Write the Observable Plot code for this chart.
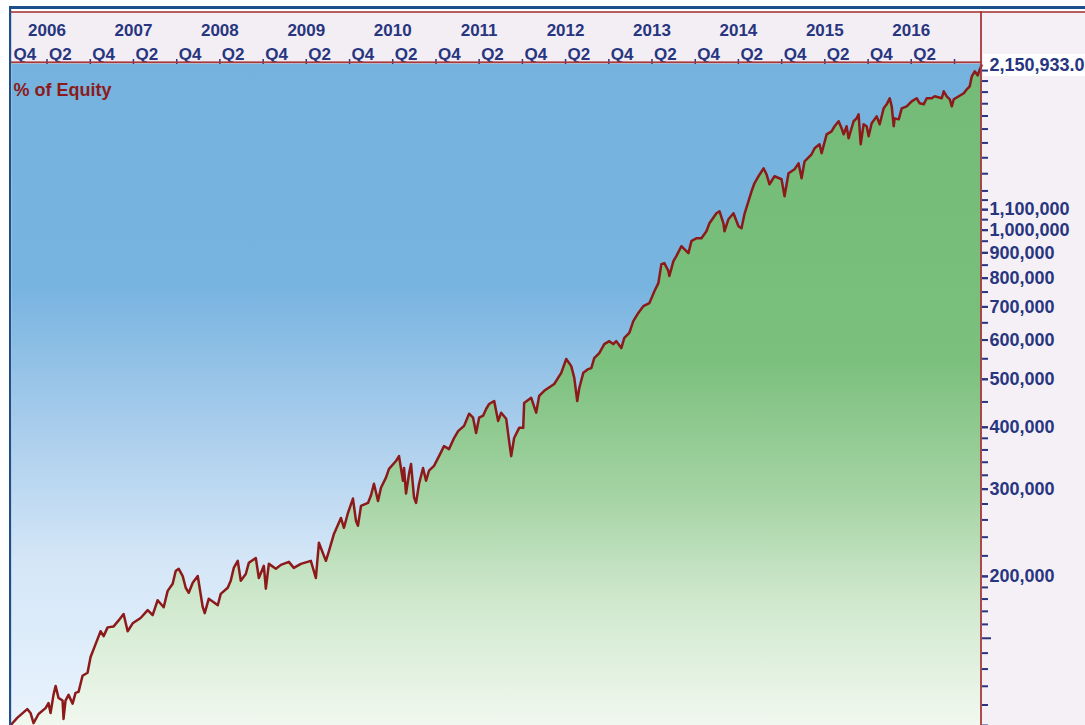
<!DOCTYPE html>
<html>
<head>
<meta charset="utf-8">
<script src="https://cdn.jsdelivr.net/npm/d3@7"></script>
<script src="https://cdn.jsdelivr.net/npm/@observablehq/plot@0.6"></script>
<style>
  html, body { margin: 0; padding: 0; background: #ffffff; }
  #chart { width: 1085px; height: 725px; overflow: hidden; }
</style>
</head>
<body>
<div id="chart"></div>
<script>
// ---- data (decimal year, equity $) ----
const years = [2005.836,2005.902,2006.018,2006.056,2006.091,2006.149,2006.230,2006.264,2006.288,2006.322,2006.346,2006.380,2006.427,2006.438,2006.461,2006.496,2006.543,2006.577,2006.612,2006.658,2006.716,2006.751,2006.809,2006.867,2006.902,2006.948,2007.018,2007.076,2007.133,2007.180,2007.238,2007.330,2007.412,2007.469,2007.527,2007.597,2007.643,2007.701,2007.736,2007.771,2007.817,2007.852,2007.887,2007.933,2007.991,2008.049,2008.072,2008.118,2008.176,2008.223,2008.257,2008.338,2008.373,2008.408,2008.454,2008.489,2008.547,2008.582,2008.663,2008.698,2008.756,2008.779,2008.814,2008.895,2008.953,2009.045,2009.103,2009.184,2009.300,2009.358,2009.393,2009.474,2009.509,2009.567,2009.648,2009.683,2009.729,2009.787,2009.822,2009.845,2009.880,2009.961,2009.995,2010.030,2010.077,2010.111,2010.169,2010.204,2010.285,2010.320,2010.366,2010.378,2010.401,2010.436,2010.459,2010.494,2010.517,2010.552,2010.598,2010.633,2010.667,2010.725,2010.783,2010.841,2010.899,2010.957,2011.004,2011.073,2011.131,2011.177,2011.212,2011.247,2011.293,2011.328,2011.363,2011.421,2011.467,2011.502,2011.560,2011.594,2011.618,2011.652,2011.710,2011.757,2011.768,2011.849,2011.907,2011.942,2012.000,2012.116,2012.197,2012.255,2012.313,2012.348,2012.382,2012.406,2012.452,2012.510,2012.545,2012.579,2012.637,2012.695,2012.753,2012.799,2012.834,2012.892,2012.927,2012.985,2013.031,2013.089,2013.147,2013.217,2013.275,2013.321,2013.356,2013.390,2013.437,2013.448,2013.495,2013.529,2013.587,2013.622,2013.669,2013.703,2013.761,2013.819,2013.877,2013.912,2013.993,2014.028,2014.074,2014.086,2014.132,2014.190,2014.248,2014.283,2014.317,2014.364,2014.399,2014.433,2014.480,2014.538,2014.572,2014.607,2014.665,2014.746,2014.781,2014.827,2014.897,2014.943,2014.978,2015.013,2015.094,2015.129,2015.186,2015.210,2015.268,2015.325,2015.360,2015.407,2015.441,2015.465,2015.499,2015.522,2015.580,2015.615,2015.638,2015.662,2015.696,2015.731,2015.754,2015.789,2015.847,2015.882,2015.928,2015.963,2015.998,2016.021,2016.044,2016.055,2016.102,2016.137,2016.194,2016.252,2016.310,2016.345,2016.391,2016.426,2016.484,2016.519,2016.600,2016.623,2016.658,2016.693,2016.716,2016.739,2016.797,2016.855,2016.890,2016.924,2016.948,2016.982,2017.017,2017.040,2017.060];
const equity = [100600,103600,107900,106000,101100,105500,108400,111000,106000,115300,120200,113700,112300,103100,112300,115300,110700,116400,116900,126000,127800,137500,146000,155000,151500,157800,158500,163000,167900,155000,160800,164800,171000,167100,179000,173300,187000,193300,205000,207200,200300,189700,185300,194200,200300,173300,168600,180200,177400,174900,184400,189700,196000,208100,215000,196000,202200,213000,217800,198500,210100,188900,212000,207200,211000,214000,208100,212000,215000,198500,233800,215000,225000,243600,262400,250700,268500,287200,259000,253100,277500,281400,291200,307700,284000,302000,316600,329600,342000,349800,312000,331100,293900,322500,337300,288500,281400,307700,331100,312000,327000,334200,349800,366400,361400,380500,393000,402600,426000,418200,389400,418200,422100,435500,445800,452000,412000,428000,416300,375000,349800,380500,398900,398900,447800,458900,428000,463100,474000,489200,515200,549300,531500,503400,452000,480200,515200,524200,526600,551800,564800,588800,597000,588800,597000,578000,606000,620200,655000,680700,702500,712400,753000,781700,854000,858000,827000,808100,866000,886200,928200,915400,898700,950000,963200,963200,995000,1032400,1081900,1092000,1032400,995000,1052200,1081900,1018100,1008800,1076900,1144000,1198000,1243500,1284900,1333100,1296900,1237700,1284900,1267100,1170600,1302900,1326900,1364300,1273000,1377000,1423100,1463800,1491100,1429700,1561200,1583000,1621000,1659000,1606100,1561200,1621000,1532500,1659000,1681600,1713000,1491100,1636100,1621000,1546800,1643700,1697200,1636100,1761900,1794900,1846200,1778300,1621000,1681600,1673800,1761900,1778300,1820000,1846200,1803300,1794900,1846200,1846200,1863300,1846200,1907000,1863300,1837600,1778300,1837600,1863300,1889500,1924300,1951300,2044100,2092000,2053500,2111400,2150933];
const finalValue = 2150933;

// top time axis (Q2 = Apr 1, Q4 = Oct 1)
const quarterTicks = [2005.748,2006.247,2006.748,2007.247,2007.748,2008.247,2008.748,2009.247,2009.748,2010.247,2010.748,2011.247,2011.748,2012.247,2012.748,2013.247,2013.748,2014.247,2014.748,2015.247,2015.748,2016.247,2016.748];
const quarterLabels = ["Q4","Q2","Q4","Q2","Q4","Q2","Q4","Q2","Q4","Q2","Q4","Q2","Q4","Q2","Q4","Q2","Q4","Q2","Q4","Q2","Q4","Q2",""];
const yearTicks = [2006.247,2007.247,2008.247,2009.247,2010.247,2011.247,2012.247,2013.247,2014.247,2015.247,2016.247];
const yearLabels = ["2006","2007","2008","2009","2010","2011","2012","2013","2014","2015","2016"];

// right value axis
const labeledTicks = [200000,300000,400000,500000,600000,700000,800000,900000,1000000,1100000];
const minorTicks = [100000,110000,120000,130000,140000,160000,170000,180000,190000,200000,220000,240000,260000,280000,300000,320000,340000,360000,380000,400000,450000,500000,550000,600000,650000,700000,750000,800000,850000,900000,950000,1000000,1050000,1100000,1150000,1200000,1300000,1400000,1500000,1600000,1700000,1800000,1900000,2000000,2100000];
const majorTicks = [150000];

const xDomain = [2005.836, 2017.06];
const yDomain = [100000, 2170000];

const navy = "#28357f";
const darkRed = "#8c1a1a";

const data = years.map((t, i) => ({t, v: equity[i]}));
const inDomain = quarterTicks.filter(d => d >= xDomain[0] && d <= xDomain[1]);

const svg = Plot.plot({
  width: 1085,
  height: 725,
  marginLeft: 11,
  marginRight: 104,
  marginTop: 63,
  marginBottom: 0,
  style: {background: "transparent", fontFamily: "'Liberation Sans', Arial, sans-serif", fontWeight: "bold", overflow: "visible"},
  x: {domain: xDomain, label: null},
  y: {type: "log", domain: yDomain, label: null},
  marks: [
    Plot.frame({fill: "url(#gBlue)", stroke: "none"}),
    Plot.areaY(data, {x: "t", y1: yDomain[0], y2: "v", fill: "url(#gGreen)"}),
    Plot.line(data, {x: "t", y: "v", stroke: darkRed, strokeWidth: 2.5}),
    Plot.axisY(minorTicks, {anchor: "right", tickSize: 6, tickFormat: () => "", stroke: navy, color: navy, label: null, strokeWidth: 2}),
    Plot.axisY(majorTicks, {anchor: "right", tickSize: 9, tickFormat: () => "", stroke: navy, color: navy, label: null, strokeWidth: 2}),
    Plot.axisY(labeledTicks, {anchor: "right", tickSize: 6, tickPadding: 2, tickFormat: d3.format(","), stroke: navy, color: navy, fill: navy, fontSize: 18, fontWeight: "bold", label: null, strokeWidth: 2}),
    Plot.axisX(inDomain, {anchor: "top", tickSize: 5, tickFormat: () => "", stroke: navy, color: navy, label: null, strokeWidth: 1.5}),
    Plot.text(quarterTicks, {x: d => Math.max(d, xDomain[0]), text: (d, i) => quarterLabels[i], frameAnchor: "top", dy: -16, dx: 2, textAnchor: "start", fill: navy, fontSize: 17, fontWeight: "bold"}),
    Plot.text(yearTicks, {x: d => d, text: (d, i) => yearLabels[i], frameAnchor: "top", dy: -40, textAnchor: "middle", fill: navy, fontSize: 17, fontWeight: "bold"}),
    Plot.text(["% of Equity"], {text: d => d, frameAnchor: "top-left", dx: 2, dy: 20, textAnchor: "start", fill: darkRed, fontSize: 18, fontWeight: "bold"}),
    Plot.text([finalValue], {y: d => d, text: d => d3.format(",.1f")(d), frameAnchor: "right", dx: 8, textAnchor: "start", fill: navy, fontSize: 18, fontWeight: "bold"})
  ]
});

const s = d3.select(svg);
const yScale = svg.scale("y");
const W = 1085, H = 725, L = 11, R = 981, T = 63;

// gradients
const defs = s.insert("defs", ":first-child");
const gb = defs.append("linearGradient").attr("id", "gBlue").attr("gradientUnits", "userSpaceOnUse")
  .attr("x1", 0).attr("x2", 0).attr("y1", T).attr("y2", H);
[[0, "#75b2de"], [0.34, "#78b4e0"], [0.55, "#a9cdec"], [0.75, "#d4e6f7"], [1, "#e9f3fd"]]
  .forEach(([o, c]) => gb.append("stop").attr("offset", o).attr("stop-color", c));
const gg = defs.append("linearGradient").attr("id", "gGreen").attr("gradientUnits", "userSpaceOnUse")
  .attr("x1", 0).attr("x2", 0).attr("y1", T).attr("y2", H);
[[0, "#73bb77"], [0.45, "#7bc07d"], [0.65, "#a4d3a3"], [0.81, "#cfe8cd"], [1, "#f1f8ef"]]
  .forEach(([o, c]) => gg.append("stop").attr("offset", o).attr("stop-color", c));

// background decorations (behind marks)
const bg = s.insert("g", "defs + *");
bg.append("rect").attr("x", 0).attr("y", 0).attr("width", W).attr("height", H).attr("fill", "#ffffff");
bg.append("rect").attr("x", L).attr("y", 12).attr("width", W - L).attr("height", T - 12).attr("fill", "#f3eef4");
bg.append("rect").attr("x", R).attr("y", 12).attr("width", W - R).attr("height", H - 12).attr("fill", "#f4f0f5");
const yf = yScale.apply(finalValue);
bg.append("rect").attr("x", R + 2).attr("y", yf - 11).attr("width", W - R).attr("height", 22).attr("fill", "#ffffff");

// foreground border lines
const fg = s.append("g");
fg.append("rect").attr("x", 9).attr("y", 6).attr("width", W - 9).attr("height", 3).attr("fill", "#1f4e8d");
fg.append("rect").attr("x", 9).attr("y", 6).attr("width", 2.2).attr("height", H - 6).attr("fill", "#1f4e8d");
fg.append("rect").attr("x", L).attr("y", 11.2).attr("width", W - L).attr("height", 1.6).attr("fill", "#a8383a");
fg.append("rect").attr("x", L).attr("y", T - 1.6).attr("width", R - L).attr("height", 1.8).attr("fill", "#a8383a");
fg.append("rect").attr("x", R - 0.9).attr("y", 11.2).attr("width", 1.8).attr("height", H - 11).attr("fill", "#a8383a");

document.getElementById("chart").appendChild(svg);
</script>
</body>
</html>
